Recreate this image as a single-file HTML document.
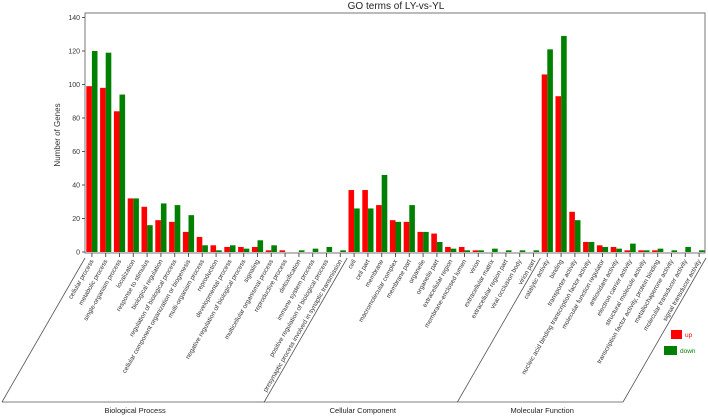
<!DOCTYPE html>
<html><head><meta charset="utf-8"><style>
html,body{margin:0;padding:0;background:#fff;}
svg{display:block;font-family:"Liberation Sans",sans-serif;}
</style></head><body>
<svg id="chart" width="708" height="416" viewBox="0 0 708 416" xmlns="http://www.w3.org/2000/svg">
<text x="396" y="9" font-size="10" text-anchor="middle" fill="#222">GO terms of LY-vs-YL</text>
<text transform="translate(60,135) rotate(-90)" font-size="8" text-anchor="middle" fill="#333">Number of Genes</text>
<g id="plot"></g>
<g>
<rect x="671" y="330" width="11" height="9" fill="#ff0000"/>
<text x="685" y="337" font-size="6.5" fill="#ff0000">up</text>
<rect x="664" y="346" width="13" height="9" fill="#008000"/>
<text x="680" y="353" font-size="6.5" fill="#008000">down</text>
</g>
</svg>
<script>
const categories = ["cellular process","metabolic process","single-organism process","localization","response to stimulus","biological regulation","regulation of biological process","cellular component organization or biogenesis","multi-organism process","reproduction","developmental process","negative regulation of biological process","signaling","multicellular organismal process","reproductive process","detoxification","immune system process","positive regulation of biological process","presynaptic process involved in synaptic transmission","cell","cell part","membrane","macromolecular complex","membrane part","organelle","organelle part","extracellular region","membrane-enclosed lumen","virion","extracellular matrix","extracellular region part","viral occlusion body","virion part","catalytic activity","binding","transporter activity","nucleic acid binding transcription factor activity","molecular function regulator","antioxidant activity","electron carrier activity","structural molecule activity","transcription factor activity, protein binding","metallochaperone activity","molecular transducer activity","signal transducer activity"];
const upValues = [99,98,84,32,27,19,18,12,9,4,3,3,3,1,1,0,0,0,0,37,37,28,19,18,12,11,3,3,1,0,0,0,0,106,93,24,6,4,3,1,1,1,0,0,0];
const downValues = [120,119,94,32,16,29,28,22,4,1,4,2,7,4,0,1,2,3,1,26,26,46,18,28,12,6,2,1,1,2,1,1,1,121,129,19,6,3,2,5,1,2,1,3,1];
const yTicks = [0,20,40,60,80,100,120,140];
const groups = ["Biological Process","Cellular Component","Molecular Function"];
const groupSizes = [19,14,12];

const NS="http://www.w3.org/2000/svg";
const g=document.getElementById('plot');
const X0=85,X1=705,Y0=252,YT=13,step=13.8;
function y(v){return Y0 - v*(234.5/140);}
function xc(i){return X0 + step*(i+0.5);}
function mk(t,a){const e=document.createElementNS(NS,t);for(const k in a)e.setAttribute(k,a[k]);g.appendChild(e);return e;}
let fr=mk('rect',{x:X0,y:YT,width:X1-X0,height:253-YT,fill:'none',stroke:'#777','stroke-width':1});


yTicks.forEach(t=>{
  const l=mk('line',{x1:X0-3,x2:X0,y1:y(t),y2:y(t),stroke:'#555'});
  
  
  const tx=mk('text',{x:X0-5,y:y(t)+2.5,'font-size':7,'text-anchor':'end',fill:'#333'});
  tx.textContent=t;
  
  
});
const bw=5.6;
categories.forEach((c,i)=>{
  const cx=xc(i);
  const ru=mk('rect',{x:cx-bw,y:y(upValues[i]),width:bw,height:Y0-y(upValues[i]),fill:'#ff0000'});
  
  
  const rd=mk('rect',{x:cx,y:y(downValues[i]),width:bw,height:Y0-y(downValues[i]),fill:'#008000'});
  
  
  const tk=mk('line',{x1:cx,x2:cx,y1:253,y2:257,stroke:'#555'});
  
  
  const lb=mk('text',{transform:`translate(${cx+2},261) rotate(-60)`,'font-size':6.4,'text-anchor':'end',fill:'#333'});
  lb.textContent=c;
  
  
});
const dx=83, yTop=258, yBot=402;
let start=0;
const bounds=[0];
groupSizes.forEach(s=>{start+=s;bounds.push(start);});
bounds.forEach((b,k)=>{
  const xt=X0+step*b;
  const l=mk('line',{x1:xt,y1:yTop,x2:xt-dx,y2:yBot,stroke:'#555','stroke-width':0.8});
  
  
});
const bl=mk('line',{x1:X0-dx,y1:yBot,x2:X0+step*45-dx,y2:yBot,stroke:'#555','stroke-width':0.8});


groups.forEach((n,k)=>{
  const a=X0+step*bounds[k]-dx, b=X0+step*bounds[k+1]-dx;
  const t=mk('text',{x:(a+b)/2+2,y:413,'font-size':7.5,'text-anchor':'middle',fill:'#222'});
  t.textContent=n;
  
  
});
</script>
</body></html>
